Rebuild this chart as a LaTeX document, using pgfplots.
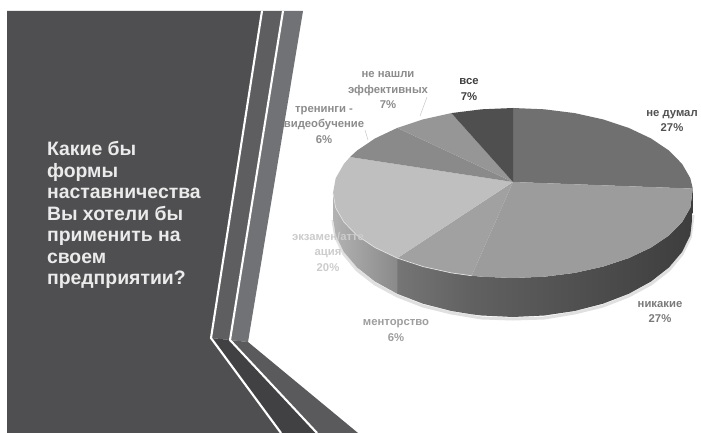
\documentclass[border=0pt]{standalone}
\usepackage{fontspec}
\setmainfont{Liberation Sans}
\usepackage{pgfplots}
\pgfplotsset{compat=1.18}

\definecolor{panel}{HTML}{4F4F51}
\definecolor{bandA}{HTML}{5E5E61}
\definecolor{bandB}{HTML}{717275}
\definecolor{lowA}{HTML}{414143}
\definecolor{lowB}{HTML}{5A5A5C}

\tikzset{
  face/.style={draw=none, fill=#1},
  lab/.style={font=\fontsize{11.3}{15.5}\selectfont\bfseries, align=center, text=#1},
}

\begin{document}
\begin{tikzpicture}
\begin{axis}[
  scale only axis, width=701pt, height=433pt,
  xmin=0, xmax=701, ymin=0, ymax=433, y dir=reverse,
  hide axis, clip=true,
]
% page, so the picture keeps its full size
\addplot[face=white] coordinates {(0,0)(701,0)(701,433)(0,433)} --cycle;

% slide panel and the bands beside it
\addplot[face=panel] coordinates {(7,11)(262,11)(211,338)(281,433)(7,433)} --cycle;
\addplot[face=bandA] coordinates {(262,11)(283,11)(230,340)(211,338)} --cycle;
\addplot[face=bandB] coordinates {(283,11)(303,11)(248,342)(230,340)} --cycle;
\addplot[face=lowA] coordinates {(211,338)(230,340)(317,433)(281,433)} --cycle;
\addplot[face=lowB] coordinates {(230,340)(248,342)(358,433)(317,433)} --cycle;
\addplot[draw=white, line width=2.1pt] coordinates {(262,11)(211,338)(281,433)};
\addplot[draw=white, line width=2.1pt] coordinates {(283,11)(230,340)(317,433)};

% soft shadow under the pie
\addplot[draw=black!12, line width=3pt] coordinates {
  (693,215)(690.3,237)(682.1,254)(668.9,270)(650.9,284)(628.7,296)(603,306)(574.6,313)(544.3,318)(513,319)
  (481.7,318)(451.4,313)(423,306)(397.3,296)(375.1,284)(357.1,270)(343.9,254)(335.7,237)(333,220)};

% pie sides
\addplot[draw=none, left color=black!62, right color=black!76] coordinates {
  (692.8,188.6)(690.3,207.8)(682.1,222.1)(668.9,235.5)(650.9,247.6)(628.7,258.1)(603,266.6)(574.6,272.9)(544.3,276.7)(513,278)(481.7,276.7)(471.7,275.7)
  (471.7,314.3)(481.7,315.5)(513,317)(544.3,315.5)(574.6,311)(603,303.7)(628.7,293.8)(650.9,281.6)(668.9,267.5)(682.1,251.9)(690.3,235.2)(692.8,212.8)} --cycle;
\addplot[draw=none, left color=black!54, right color=black!62] coordinates {
  (471.7,275.7)(451.4,272.9)(423,266.6)(397.3,258.1)
  (397.3,293.8)(423,303.7)(451.4,311)(471.7,314.3)} --cycle;
\addplot[draw=none, left color=black!30, right color=black!46] coordinates {
  (397.3,258.1)(375.1,247.6)(357.1,235.5)(343.9,222.1)(335.7,207.8)(333,193)
  (333,218)(335.7,235.2)(343.9,251.9)(357.1,267.5)(375.1,281.6)(397.3,293.8)} --cycle;

% pie top: apex at (513,182)
\addplot[face=black!56] coordinates {(513,182)(513,108)(544.3,109.3)(574.6,113.1)(603,119.4)(628.7,127.9)(650.9,138.4)(668.9,150.5)(682.1,163.9)(690.3,178.2)(692.8,188.6)} --cycle;
\addplot[face=black!39] coordinates {(513,182)(692.8,188.6)(690.3,207.8)(682.1,222.1)(668.9,235.5)(650.9,247.6)(628.7,258.1)(603,266.6)(574.6,272.9)(544.3,276.7)(513,278)(481.7,276.7)(471.7,275.7)} --cycle;
\addplot[face=black!37] coordinates {(513,182)(471.7,275.7)(451.4,272.9)(423,266.6)(397.3,258.1)} --cycle;
\addplot[face=black!25] coordinates {(513,182)(397.3,258.1)(375.1,247.6)(357.1,235.5)(343.9,222.1)(335.7,207.8)(333,193)(335.7,178.2)(343.9,163.9)(350,157)} --cycle;
\addplot[face=black!46] coordinates {(513,182)(350,157)(357.1,150.5)(375.1,138.4)(397.3,127.9)} --cycle;
\addplot[face=black!41] coordinates {(513,182)(397.3,127.9)(423,119.4)(451.4,113.1)} --cycle;
\addplot[face=black!69] coordinates {(513,182)(451.4,113.1)(481.7,109.3)(513,108)} --cycle;

% light edge along the near rim
\addplot[draw=black!12, line width=0.7pt] coordinates {
  (471.7,275.7)(451.4,272.9)(423,266.6)(397.3,258.1)(375.1,247.6)(357.1,235.5)(343.9,222.1)(335.7,207.8)(333,193)};

% leader lines
\addplot[draw=black!22, line width=0.5pt] coordinates {(427,97)(420,116)};
\addplot[draw=black!22, line width=0.5pt] coordinates {(365,130)(368,140)};

\node[lab=black!68] at (axis cs:672,121) {не думал\\27\%};
\node[lab=black!52] at (axis cs:660,312) {никакие\\27\%};
\node[lab=black!38] at (axis cs:396,330.5) {менторство\\6\%};
\node[lab=black!20] at (axis cs:328,251.5) {экзамен/атте\\ация\\20\%};
\node[lab=black!45] at (axis cs:324,125) {тренинги -\\видеобучение\\6\%};
\node[lab=black!45] at (axis cs:388,90.5) {не нашли\\эффективных\\7\%};
\node[lab=black!75] at (axis cs:469,89.5) {все\\7\%};

\node[anchor=west, align=left, text=black!8, font=\fontsize{19.4}{21.5}\selectfont\bfseries] at (axis cs:43.5,215)
  {Какие бы\\формы\\наставничества\\Вы хотели бы\\применить на\\своем\\предприятии?};
\end{axis}
\end{tikzpicture}
\end{document}
